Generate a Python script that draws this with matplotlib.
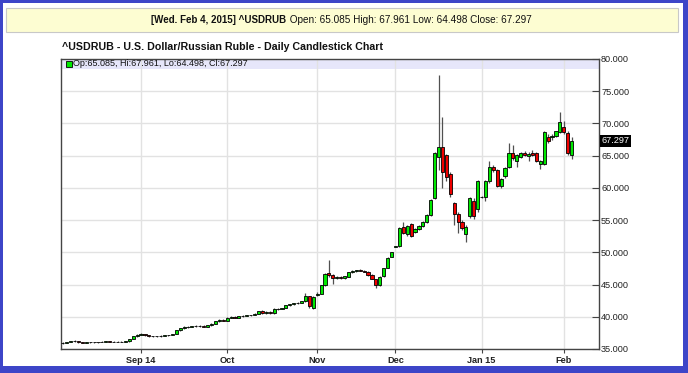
import numpy as np
import pandas as pd
import matplotlib
matplotlib.use('Agg')
import matplotlib.pyplot as plt
from matplotlib.patches import Rectangle
import matplotlib.transforms as mtransforms

plt.rcParams['font.family'] = ['Liberation Sans', 'DejaVu Sans']

# trading days shown on the chart
days = pd.bdate_range('2014-08-04', '2015-02-04')
days = days[~days.isin(pd.to_datetime(['2014-12-25', '2015-01-19']))]

# OHLC, month by month
opens = [
    # Aug
    35.90, 36.00, 36.10, 36.25, 36.20, 36.05, 36.00, 36.05, 36.10, 36.05,
    36.10, 36.15, 36.25, 36.10, 36.15, 36.10, 36.15, 36.20, 36.55, 36.95,
    # Sep
    37.20, 37.35, 37.10, 36.95, 36.95, 37.00, 37.05, 37.10, 37.15, 37.35, 37.90,
    38.20, 38.40, 38.45, 38.50, 38.55, 38.60, 38.40, 38.65, 38.95, 39.30, 39.50,
    # Oct
    39.40, 39.80, 40.00, 39.85, 40.10, 40.15, 40.20, 40.30, 40.50, 40.90, 40.55, 40.80,
    40.55, 41.20, 41.25, 41.35, 41.80, 41.95, 42.15, 42.20, 42.40, 43.20, 41.40,
    # Nov
    43.40, 43.60, 44.90, 46.80, 46.50, 46.00, 46.20, 46.00, 46.20, 46.90,
    47.10, 47.20, 47.15, 47.00, 46.50, 45.80, 44.90, 46.30, 47.60, 49.30,
    # Dec
    50.85, 51.00, 54.00, 52.80, 54.35, 53.20, 53.60, 54.10, 54.75, 55.80, 58.50,
    64.80, 66.40, 65.10, 62.10, 57.60, 55.95, 54.75, 52.80, 55.60, 58.00, 56.70,
    # Jan
    58.60, 58.60, 61.00, 63.20, 62.70, 60.30, 61.80, 63.30, 65.35, 64.10, 64.80,
    65.35, 64.95, 65.35, 65.35, 63.70, 63.70, 67.85, 67.85, 68.05, 68.70,
    # Feb
    69.50, 68.50, 65.085,
]
highs = [
    36.05, 36.15, 36.30, 36.35, 36.25, 36.15, 36.10, 36.15, 36.15, 36.15,
    36.20, 36.30, 36.30, 36.20, 36.20, 36.20, 36.25, 36.60, 37.00, 37.30,
    37.45, 37.40, 37.15, 37.05, 37.05, 37.10, 37.15, 37.20, 37.40, 38.00, 38.30,
    38.50, 38.55, 38.60, 38.65, 38.70, 38.65, 38.70, 39.00, 39.35, 39.60, 39.70,
    39.90, 40.05, 40.05, 40.15, 40.25, 40.30, 40.35, 40.60, 40.95, 41.00, 40.85, 40.90,
    41.30, 41.35, 41.40, 41.85, 42.00, 42.20, 42.30, 42.45, 43.70, 43.30, 43.20,
    43.80, 45.00, 46.80, 48.80, 46.70, 46.40, 46.40, 46.40, 47.00, 47.20,
    47.30, 47.35, 47.20, 47.05, 46.60, 45.90, 46.30, 47.60, 49.20, 50.10,
    51.00, 53.90, 54.75, 54.30, 54.60, 53.80, 54.20, 54.90, 55.90, 58.30, 65.60,
    77.50, 71.00, 65.30, 62.40, 57.80, 56.30, 55.00, 54.30, 58.60, 58.50, 61.20,
    58.70, 61.20, 64.10, 63.60, 62.90, 61.60, 63.30, 66.90, 66.60, 65.30, 65.60,
    65.80, 65.50, 65.90, 65.60, 64.40, 68.80, 68.30, 68.40, 68.90, 71.70,
    70.40, 68.90, 67.961,
]
lows = [
    35.85, 35.95, 36.05, 36.15, 36.00, 35.95, 35.95, 36.00, 36.00, 36.00,
    36.05, 36.10, 36.05, 36.05, 36.05, 36.05, 36.10, 36.15, 36.50, 36.90,
    37.10, 37.00, 36.90, 36.85, 36.85, 36.90, 36.95, 37.00, 37.10, 37.30, 37.85,
    38.10, 38.30, 38.35, 38.40, 38.45, 38.35, 38.35, 38.60, 38.90, 39.20, 39.35,
    39.35, 39.75, 39.80, 39.80, 40.00, 40.05, 40.10, 40.25, 40.45, 40.50, 40.50, 40.50,
    40.40, 41.10, 41.15, 41.30, 41.70, 41.90, 42.00, 42.10, 42.30, 41.40, 41.20,
    43.30, 43.50, 44.70, 46.20, 45.10, 45.80, 45.90, 45.90, 46.10, 46.80,
    47.00, 47.05, 46.90, 46.40, 45.80, 44.50, 44.80, 46.20, 47.50, 49.20,
    50.80, 50.90, 52.80, 52.60, 52.40, 53.00, 53.40, 54.00, 54.60, 55.60, 58.30,
    62.80, 60.00, 61.00, 58.60, 54.20, 53.00, 53.40, 51.65, 55.30, 55.20, 56.30,
    58.50, 57.90, 60.80, 62.40, 60.10, 60.00, 61.60, 63.10, 64.40, 63.30, 64.60,
    64.90, 64.20, 64.90, 64.00, 63.00, 63.50, 67.00, 67.50, 67.90, 68.50,
    68.40, 65.10, 64.498,
]
closes = [
    36.00, 36.10, 36.25, 36.20, 36.05, 36.00, 36.05, 36.10, 36.05, 36.10,
    36.15, 36.25, 36.10, 36.15, 36.10, 36.15, 36.20, 36.55, 36.95, 37.20,
    37.35, 37.10, 36.95, 36.95, 37.00, 37.05, 37.10, 37.15, 37.35, 37.90, 38.20,
    38.40, 38.45, 38.50, 38.55, 38.60, 38.40, 38.65, 38.95, 39.30, 39.50, 39.40,
    39.80, 40.00, 39.85, 40.10, 40.15, 40.20, 40.30, 40.50, 40.90, 40.55, 40.80, 40.55,
    41.20, 41.25, 41.35, 41.80, 41.95, 42.15, 42.20, 42.40, 43.20, 41.60, 43.00,
    43.60, 44.90, 46.70, 46.50, 46.00, 46.20, 46.00, 46.30, 46.90, 47.10,
    47.20, 47.15, 47.00, 46.50, 45.80, 44.90, 46.20, 47.50, 49.10, 50.00,
    50.90, 53.70, 52.95, 54.10, 52.60, 53.60, 54.10, 54.75, 55.80, 58.10, 65.40,
    66.40, 62.50, 61.70, 59.00, 55.95, 54.65, 53.80, 54.00, 58.40, 55.60, 61.00,
    58.55, 61.00, 63.20, 62.70, 60.30, 61.40, 63.10, 65.35, 64.60, 65.10, 65.35,
    65.05, 65.25, 65.10, 64.20, 64.20, 68.60, 67.20, 68.05, 68.80, 70.20,
    68.60, 65.35, 67.297,
]

month_labels = ['Sep 14', 'Oct', 'Nov', 'Dec', 'Jan 15', 'Feb']
price_ticks = [35, 40, 45, 50, 55, 60, 65, 70, 75, 80]

W, H = 688, 373
fig = plt.figure(figsize=(W / 100, H / 100), dpi=100, facecolor='#3d45c8')

# white panel and yellow header
fig.patches.append(Rectangle((3 / W, 1 - 366 / H), 680 / W, 363 / H, transform=fig.transFigure,
                             facecolor='white', edgecolor='none', zorder=-3))
fig.patches.append(Rectangle((6 / W, 1 - 32 / H), 672 / W, 24 / H, transform=fig.transFigure,
                             facecolor='#fdfdd2', edgecolor='#c8c8c8', lw=0.8, zorder=-2))
fig.text(286 / W, 1 - 20 / H, '[Wed. Feb 4, 2015] ^USDRUB', ha='right', va='center',
         fontsize=7, fontweight='bold', color='#111111')
fig.text(287 / W, 1 - 20 / H, ' Open: 65.085 High: 67.961 Low: 64.498 Close: 67.297',
         ha='left', va='center', fontsize=7.2, color='#111111')
fig.text(61.5 / W, 1 - 47 / H, '^USDRUB - U.S. Dollar/Russian Ruble - Daily Candlestick Chart',
         ha='left', va='center', fontsize=7.7, fontweight='bold', color='#111111')

ax = fig.add_axes([61 / W, 1 - 349 / H, 538 / W, 290 / H])
ax.set_zorder(1)
ax.set_facecolor('white')

x = np.arange(len(closes))
o = np.array(opens)
c = np.array(closes)
up = c >= o
cols = np.where(up, '#00e800', '#ee0000')
bottom = np.minimum(o, c)
height = np.maximum(np.abs(c - o), 0.06)

ax.vlines(x, lows, highs, color='#505050', lw=0.9, zorder=2)
ax.bar(x, height, bottom=bottom, width=0.8, color=cols, edgecolor='black', lw=0.6, zorder=3)

ax.set_xlim(-0.45, 137)
ax.set_ylim(35, 80)

# month gridlines at first trading day of month
mpos = [int(np.argmax((days.month == d.month) & (days.year == d.year)))
        for d in pd.to_datetime(['2014-09-01', '2014-10-01', '2014-11-01',
                                 '2014-12-01', '2015-01-01', '2015-02-01'])]
ax.set_xticks(mpos)
ax.set_xticklabels(month_labels, fontsize=6.6, fontweight='bold', color='#222222')
ax.set_yticks(price_ticks)
ax.set_yticklabels(['%.3f' % v for v in price_ticks], fontsize=6.6, color='#222222')
ax.yaxis.tick_right()
ax.tick_params(axis='y', direction='in', length=5, pad=1.5, color='#444444')
ax.tick_params(axis='x', direction='out', length=3, pad=2, color='#444444')
ax.grid(True, color='#e2e2e2', lw=1)
ax.set_axisbelow(True)
for s in ax.spines.values():
    s.set_color('#444444')
    s.set_linewidth(1)

# legend band
ax.add_patch(Rectangle((0, 1 - 10 / 290), 1, 10 / 290, transform=ax.transAxes,
                       facecolor='#e6e6fa', edgecolor='none', zorder=0.3))
ax.plot([7.5 / 538], [1 - 5 / 290], 's', transform=ax.transAxes, ms=4.2,
        mfc='#00e800', mec='black', mew=0.6, zorder=5, clip_on=False)
ax.text(12 / 538, 1 - 5 / 290, 'Op:65.085, Hi:67.961, Lo:64.498, Cl:67.297',
        transform=ax.transAxes, ha='left', va='center', fontsize=6.5, color='#111111', zorder=5)

# last price tag
tr = mtransforms.blended_transform_factory(ax.transAxes, ax.transData)
ax.text(1.004, closes[-1], '%.3f' % closes[-1], transform=tr, ha='left', va='center',
        fontsize=6.6, color='white', zorder=6,
        bbox=dict(boxstyle='square,pad=0.15', facecolor='black', edgecolor='none'))

fig.savefig('out.png', dpi=100, facecolor=fig.get_facecolor())
